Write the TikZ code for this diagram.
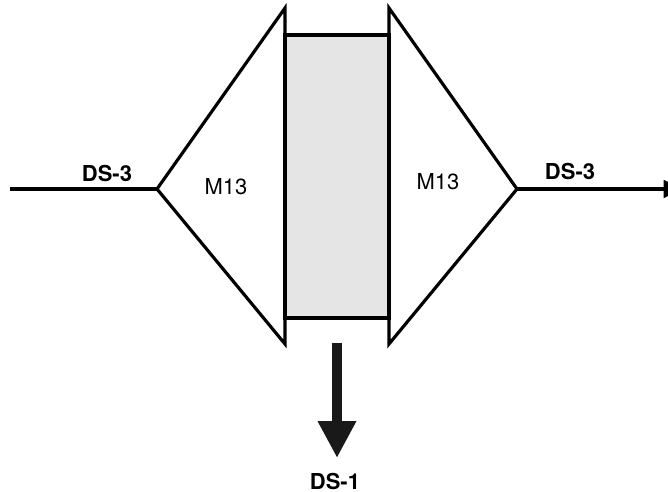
\documentclass[tikz,border=0pt]{standalone}
\usepackage{fontspec}
\setmainfont{TeX Gyre Heros}
\usetikzlibrary{arrows.meta}

\begin{document}
\begin{tikzpicture}[x=0.02cm, y=-0.02cm,
                    line width=1.8pt,
                    lbl/.style={font=\fontsize{12.5}{14}\selectfont\bfseries, inner sep=0},
                    mux/.style={font=\fontsize{12.5}{14}\selectfont, inner sep=0}]
    \useasboundingbox (0,0) rectangle (668,492);
    \coordinate (in) at (10,189);
    \coordinate (lapex) at (157,189);
    \coordinate (ltop) at (285,8);
    \coordinate (lbot) at (285,344);
    \coordinate (rtop) at (389,8);
    \coordinate (rbot) at (389,344);
    \coordinate (rapex) at (517,189);
    \coordinate (out) at (682,189);
    \coordinate (dtop) at (337,343);
    \coordinate (dtip) at (337,458);

    \draw [fill=black!10] (285,35) rectangle (389,318);
    \draw (lapex) -- (ltop) -- (lbot) -- cycle;
    \draw (rapex) -- (rtop) -- (rbot) -- cycle;

    \draw (in) -- (lapex);
    \draw [-{Triangle[length=10.5pt, width=10pt]}] (rapex) -- (out);
    \draw [line width=5.7pt, color=black!90, -{Triangle[length=21pt, width=20.5pt]}] (dtop) -- (dtip);

    \node (ds3in) [lbl] at (107,173) {DS-3};
    \node (m13l) [mux] at (226,187) {M13};
    \node (m13r) [mux] at (438,181.5) {M13};
    \node (ds3out) [lbl] at (570,171.5) {DS-3};
    \node (ds1) [lbl] at (335,481) {DS-1};
\end{tikzpicture}
\end{document}
